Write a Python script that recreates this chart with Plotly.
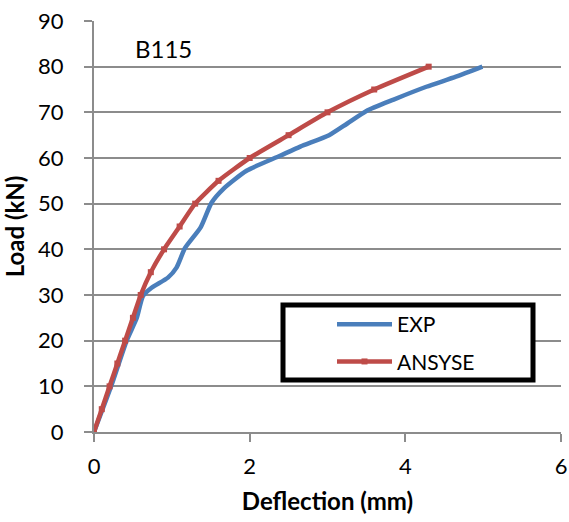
import plotly.graph_objects as go

# EXP series
exp_x = [0, 0.22, 0.42, 0.55, 0.63, 0.74, 0.95, 1.06, 1.17, 1.37, 1.51, 1.66, 1.96, 2.39, 2.65, 3.02, 3.25, 3.50, 3.85, 4.27, 4.65, 4.99]
exp_y = [0, 10, 20, 25, 29.8, 31.6, 33.8, 36, 40.3, 44.8, 50.2, 53.2, 57.2, 60.5, 62.5, 65.0, 67.5, 70.3, 72.8, 75.6, 77.8, 80]

# ANSYSE series
ans_x = [0, 0.1, 0.2, 0.3, 0.4, 0.5, 0.6, 0.73, 0.9, 1.1, 1.3, 1.6, 2.0, 2.5, 3.0, 3.6, 4.3]
ans_y = [0, 5, 10, 15, 20, 25, 30, 35, 40, 45, 50, 55, 60, 65, 70, 75, 80]

x_ticks = [0, 2, 4, 6]
y_ticks = [0, 10, 20, 30, 40, 50, 60, 70, 80, 90]

FONT = "Lato"
BLUE = "#4A7EBB"
RED = "#BE4B48"
GRID = "#8C8C8C"

L, R, T, B = 94, 8, 21, 90
PW, PH = 569 - L - R, 522 - T - B

fig = go.Figure()
fig.add_trace(go.Scatter(
    x=exp_x, y=exp_y, name="EXP", mode="lines",
    line=dict(color=BLUE, width=4.5, shape="spline", smoothing=0.6),
    legendgroup="a",
))
fig.add_trace(go.Scatter(
    x=ans_x, y=ans_y, name="ANSYSE", mode="lines+markers",
    line=dict(color=RED, width=4.5, shape="spline", smoothing=0.5),
    marker=dict(symbol="square", size=6, color=RED),
    legendgroup="b",
))

# legend frame (white fill, thick black border)
fig.add_shape(type="rect", xref="paper", yref="paper",
              x0=(283 - L) / PW, x1=(533 - L) / PW,
              y0=(432 - 380) / PH, y1=(432 - 305) / PH,
              line=dict(color="black", width=5), fillcolor="white", layer="above")

fig.add_annotation(x=0.5, y=84, xref="x", yref="y", text="B115", showarrow=False,
                   xanchor="left", yanchor="middle", font=dict(family=FONT, size=24, color="black"))

fig.update_layout(
    width=569, height=522,
    margin=dict(l=L, r=R, t=T, b=B, autoexpand=False),
    paper_bgcolor="white", plot_bgcolor="white",
    font=dict(family=FONT, size=22, color="black"),
    showlegend=True,
    legend=dict(x=(332 - L) / PW, y=(432 - 304) / PH, xanchor="left", yanchor="top",
                bgcolor="rgba(0,0,0,0)", borderwidth=0, itemwidth=55,
                traceorder="grouped", tracegroupgap=7,
                font=dict(family=FONT, size=21, color="black")),
    xaxis=dict(range=[0, 6], tickvals=x_ticks, showgrid=False, zeroline=False, automargin=False,
               showline=True, linecolor=GRID, linewidth=2, ticks="outside", ticklen=8,
               tickcolor=GRID, tickwidth=2, ticklabelstandoff=6,
               tickfont=dict(family=FONT, size=22),
               title=dict(text="<b>Deflection (mm)</b>", font=dict(family=FONT, size=24), standoff=15)),
    yaxis=dict(range=[0, 90], tickvals=y_ticks, showgrid=True, gridcolor=GRID, gridwidth=2,
               zeroline=False, showline=True, linecolor=GRID, linewidth=2, automargin=False,
               ticks="outside", ticklen=8, tickcolor=GRID, tickwidth=2, ticklabelstandoff=16,
               tickfont=dict(family=FONT, size=22),
               title=dict(text="<b>Load (kN)</b>", font=dict(family=FONT, size=24), standoff=12)),
)

fig.write_html("out.html")
